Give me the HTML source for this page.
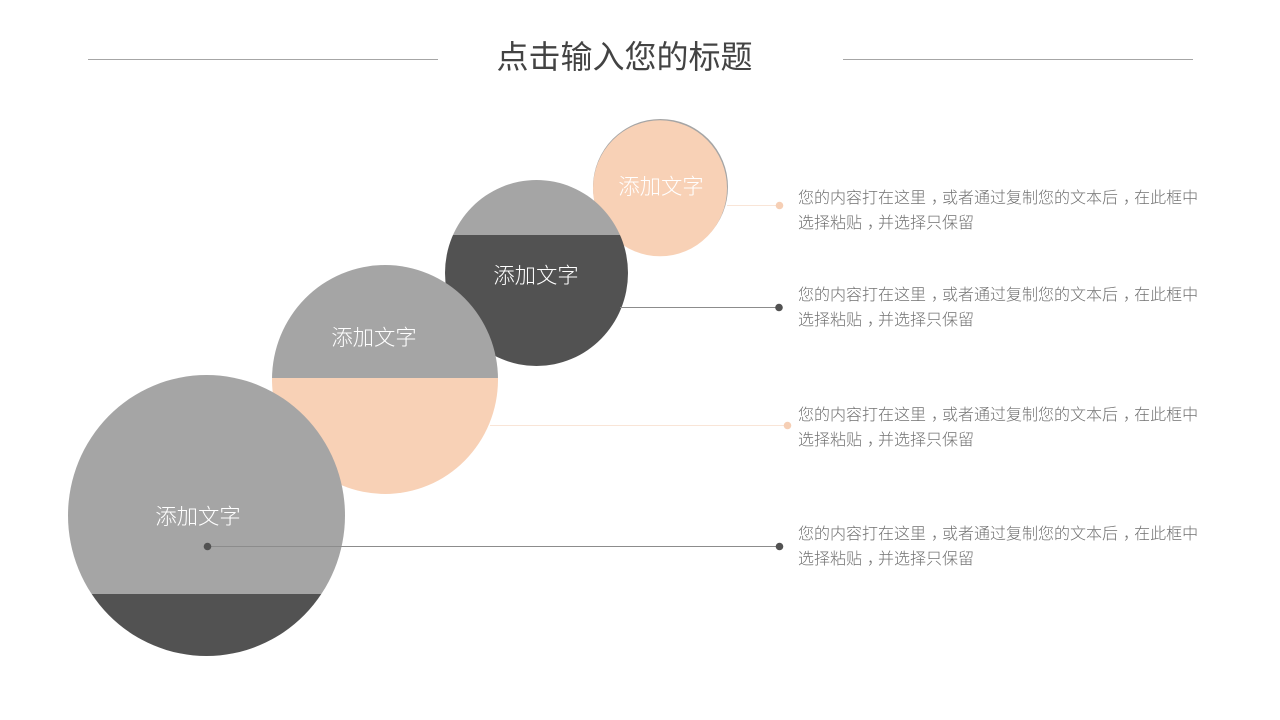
<!DOCTYPE html>
<html><head><meta charset="utf-8">
<style>
html,body{margin:0;padding:0;background:#fff;width:1280px;height:720px;overflow:hidden}
svg{display:block}
text{font-family:"Liberation Sans","Noto Sans CJK SC",sans-serif}
.l{font-size:21.33px;fill:#fff;font-weight:300}
.b{font-size:16px;fill:#717171;font-weight:300}
</style></head><body>
<svg width="1280" height="720" viewBox="0 0 1280 720" xmlns="http://www.w3.org/2000/svg">
<defs>
<clipPath id="c2"><ellipse cx="385" cy="379.5" rx="113" ry="114.5"/></clipPath>
<clipPath id="c3"><ellipse cx="536.5" cy="273" rx="91.5" ry="93"/></clipPath>
<clipPath id="c1"><ellipse cx="206.5" cy="515.5" rx="138.5" ry="140.5"/></clipPath>
</defs>
<rect width="1280" height="720" fill="#fff"/>
<line x1="88" y1="59.5" x2="438" y2="59.5" stroke="#a6a6a6" stroke-width="1"/>
<line x1="843" y1="59.5" x2="1193" y2="59.5" stroke="#a6a6a6" stroke-width="1"/>
<text x="624.5" y="68" text-anchor="middle" font-size="32" fill="#434343" font-weight="400">点击输入您的标题</text>

<!-- top circle -->
<ellipse cx="660.5" cy="187" rx="67.5" ry="68" fill="#a5a5a5"/>
<ellipse cx="660" cy="188.3" rx="67" ry="68" fill="#f8d1b6"/>
<line x1="727" y1="205.5" x2="779" y2="205.5" stroke="#f9e5d7" stroke-width="1"/>
<circle cx="779.5" cy="205.5" r="3.8" fill="#f6cfb5"/>

<!-- third circle -->
<g clip-path="url(#c3)">
<rect x="440" y="175" width="195" height="60" fill="#a5a5a5"/>
<rect x="440" y="235" width="195" height="135" fill="#525252"/>
</g>
<line x1="620" y1="307.5" x2="779" y2="307.5" stroke="#8c8c8c" stroke-width="1"/>
<circle cx="779" cy="307.5" r="3.8" fill="#525252"/>

<!-- second circle -->
<g clip-path="url(#c2)">
<rect x="265" y="260" width="240" height="118" fill="#a5a5a5"/>
<rect x="265" y="378" width="240" height="120" fill="#f8d1b6"/>
</g>
<line x1="490" y1="425.5" x2="787" y2="425.5" stroke="#f9e5d7" stroke-width="1"/>
<circle cx="787.5" cy="425.5" r="3.8" fill="#f6cfb5"/>

<!-- large circle -->
<g clip-path="url(#c1)">
<rect x="60" y="370" width="290" height="224" fill="#a5a5a5"/>
<rect x="60" y="594" width="290" height="70" fill="#525252"/>
</g>
<line x1="207" y1="546.5" x2="779" y2="546.5" stroke="#8c8c8c" stroke-width="1"/>
<circle cx="207.5" cy="546.5" r="3.8" fill="#525252"/>
<circle cx="779.5" cy="546.5" r="3.8" fill="#525252"/>

<text class="l" x="661" y="194" text-anchor="middle">添加文字</text>
<text class="l" x="536" y="283" text-anchor="middle">添加文字</text>
<text class="l" x="374" y="345" text-anchor="middle">添加文字</text>
<text class="l" x="198" y="524" text-anchor="middle">添加文字</text>

<text class="b" x="798" y="203">您的内容打在这里<tspan dx="5">，</tspan><tspan dx="-5">或者通过复制您的文本后</tspan><tspan dx="5">，</tspan><tspan dx="-5">在此框中</tspan></text>
<text class="b" x="798" y="228">选择粘贴<tspan dx="5">，</tspan><tspan dx="-5">并选择只保留</tspan></text>
<text class="b" x="798" y="300">您的内容打在这里<tspan dx="5">，</tspan><tspan dx="-5">或者通过复制您的文本后</tspan><tspan dx="5">，</tspan><tspan dx="-5">在此框中</tspan></text>
<text class="b" x="798" y="325">选择粘贴<tspan dx="5">，</tspan><tspan dx="-5">并选择只保留</tspan></text>
<text class="b" x="798" y="420">您的内容打在这里<tspan dx="5">，</tspan><tspan dx="-5">或者通过复制您的文本后</tspan><tspan dx="5">，</tspan><tspan dx="-5">在此框中</tspan></text>
<text class="b" x="798" y="445">选择粘贴<tspan dx="5">，</tspan><tspan dx="-5">并选择只保留</tspan></text>
<text class="b" x="798" y="539">您的内容打在这里<tspan dx="5">，</tspan><tspan dx="-5">或者通过复制您的文本后</tspan><tspan dx="5">，</tspan><tspan dx="-5">在此框中</tspan></text>
<text class="b" x="798" y="564">选择粘贴<tspan dx="5">，</tspan><tspan dx="-5">并选择只保留</tspan></text>
</svg>
</body></html>
